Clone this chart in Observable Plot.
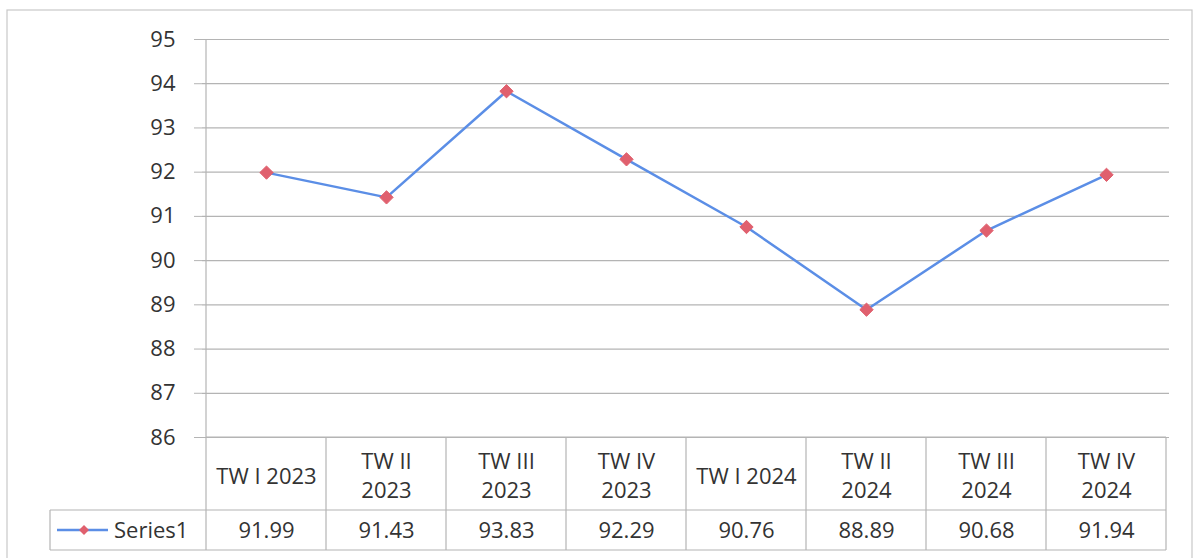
<!DOCTYPE html>
<html><head><meta charset="utf-8">
<script src="https://cdn.jsdelivr.net/npm/d3@7"></script>
<script src="https://cdn.jsdelivr.net/npm/@observablehq/plot@0.6"></script>
<style>body{margin:0;background:#fff}svg{display:block}</style>
</head><body><div id="chart"></div>
<script>
const categories = ["TW I 2023","TW II 2023","TW III 2023","TW IV 2023","TW I 2024","TW II 2024","TW III 2024","TW IV 2024"];
const categoryLabels = ["TW I 2023","TW II\n2023","TW III\n2023","TW IV\n2023","TW I 2024","TW II\n2024","TW III\n2024","TW IV\n2024"];
const values = [91.99, 91.43, 93.83, 92.29, 90.76, 88.89, 90.68, 91.94];
const valueLabels = ["91.99","91.43","93.83","92.29","90.76","88.89","90.68","91.94"];
const seriesName = "Series1";
const yTicks = [86, 87, 88, 89, 90, 91, 92, 93, 94, 95];

const lineColor = "#5b8ee6";
const markerColor = "#e0606e";
const gridColor = "#b4b4b4";
const textColor = "#333";
const font = "'Open Sans', Lato, sans-serif";
const fs = 22;

const data = categories.map((c, i) => ({c, v: values[i], label: categoryLabels[i], vl: valueLabels[i]}));

const plot = Plot.plot({
  width: 1197, height: 558,
  marginTop: 39, marginBottom: 121, marginLeft: 202, marginRight: 28,
  style: {fontFamily: font, color: textColor, background: "#fff", overflow: "visible"},
  x: {type: "point", domain: categories, padding: 0.5, axis: null},
  y: {domain: [86, 95], axis: null},
  marks: [
    Plot.gridY(yTicks, {stroke: gridColor, strokeOpacity: 1, strokeWidth: 1.2}),
    Plot.axisY(yTicks, {label: null, tickSize: 8, tickPadding: 19, fontSize: fs, stroke: gridColor, strokeOpacity: 1, fill: textColor, tickFormat: d => String(d)}),
    Plot.line(data, {x: "c", y: "v", stroke: lineColor, strokeWidth: 2.5}),
    Plot.dot(data, {x: "c", y: "v", symbol: "diamond2", r: 6, fill: markerColor, stroke: markerColor, strokeWidth: 1}),
    Plot.text(data, {x: "c", y: () => 86, text: "label", dy: 37, fontSize: fs, lineHeight: 1.32, fill: textColor}),
    Plot.text(data, {x: "c", y: () => 86, text: "vl", dy: 93, fontSize: fs, fill: textColor})
  ]
});

document.getElementById("chart").appendChild(plot);

// Data table grid lines and legend key, positioned through Plot's scales
const sx = plot.scale("x"), sy = plot.scale("y");
const xs = categories.map(c => sx.apply(c));
const step = xs[1] - xs[0];
const left = xs[0] - step / 2, right = xs[xs.length - 1] + step / 2;
const yTop = sy.apply(95), yBase = sy.apply(86);
const rowH1 = 73, rowH2 = 40;
const yRow = yBase + rowH1, yBottom = yRow + rowH2;
const legendLeft = 50;

const svg = d3.select(plot);
const g = svg.append("g").attr("stroke", gridColor).attr("stroke-width", 1.2).attr("fill", "none");
g.append("rect").attr("x", 7).attr("y", 10).attr("width", 1185).attr("height", 560).attr("stroke", "#c8c8c8");
g.append("line").attr("x1", left).attr("x2", left).attr("y1", yTop).attr("y2", yBottom);
for (let i = 1; i <= categories.length; i++) {
  const x = left + i * step;
  g.append("line").attr("x1", x).attr("x2", x).attr("y1", yBase).attr("y2", yBottom);
}
g.append("line").attr("x1", legendLeft).attr("x2", legendLeft).attr("y1", yRow).attr("y2", yBottom);
g.append("line").attr("x1", left).attr("x2", right).attr("y1", yBase).attr("y2", yBase);
g.append("line").attr("x1", legendLeft).attr("x2", right).attr("y1", yRow).attr("y2", yRow);
g.append("line").attr("x1", legendLeft).attr("x2", right).attr("y1", yBottom).attr("y2", yBottom);

// legend key
const ly = (yRow + yBottom) / 2;
const lg = svg.append("g");
lg.append("line").attr("x1", 57).attr("x2", 108).attr("y1", ly).attr("y2", ly).attr("stroke", lineColor).attr("stroke-width", 2.5);
lg.append("path").attr("d", d3.symbol(d3.symbolDiamond2, 64)()).attr("transform", `translate(84,${ly})`).attr("fill", markerColor);
lg.append("text").attr("x", 114).attr("y", ly).attr("dy", "0.35em").attr("text-anchor", "start")
  .attr("font-size", fs).attr("font-family", font).attr("fill", textColor).text(seriesName);
</script>
</body></html>
